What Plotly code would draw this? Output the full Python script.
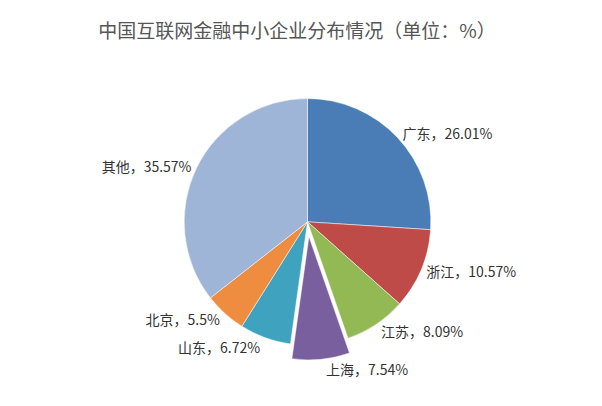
import plotly.graph_objects as go

regions = ["广东", "浙江", "江苏", "上海", "山东", "北京", "其他"]
shares = [26.01, 10.57, 8.09, 7.54, 6.72, 5.5, 35.57]
colors = ["#4a7db5", "#bf4b48", "#93b955", "#7a5f9e", "#3fa3bf", "#ee8d3f", "#9fb5d8"]
pulls = [0, 0, 0, 0.12, 0, 0, 0]

labels = [f"{r}，{s}%" for r, s in zip(regions, shares)]

fig = go.Figure(go.Pie(
    labels=regions,
    values=shares,
    text=labels,
    textinfo="text",
    textposition="outside",
    sort=False,
    direction="clockwise",
    rotation=0,
    pull=pulls,
    marker=dict(colors=colors, line=dict(color="white", width=0.5)),
    textfont=dict(size=14, color="#333333"),
    showlegend=False,
    domain=dict(x=[0.05, 0.95], y=[0.0, 0.9]),
))

fig.update_layout(
    width=602, height=406,
    margin=dict(l=10, r=10, t=45, b=10),
    paper_bgcolor="white",
    font=dict(family="Noto Sans CJK SC, sans-serif"),
    title=dict(text="中国互联网金融中小企业分布情况（单位：%）", x=0.48, y=0.96,
               font=dict(size=19, color="#555555")),
)

fig.write_html("out.html")
